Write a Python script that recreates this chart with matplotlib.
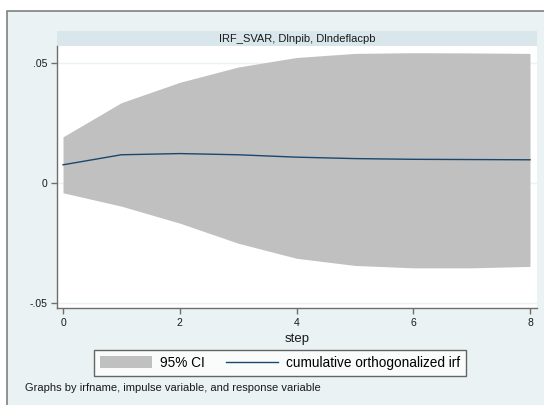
import numpy as np
import matplotlib.pyplot as plt
from matplotlib.patches import Rectangle

plt.rcParams['font.family'] = ['Liberation Sans', 'DejaVu Sans']

# values
steps = [0, 1, 2, 3, 4, 5, 6, 7, 8]
irf = [0.0076, 0.0118, 0.0123, 0.0118, 0.0108, 0.0102, 0.0099, 0.0098, 0.0097]
ci_low = [-0.0041, -0.0097, -0.0168, -0.0252, -0.0315, -0.0345, -0.0355, -0.0355, -0.0349]
ci_high = [0.0193, 0.0336, 0.0421, 0.0485, 0.0525, 0.0542, 0.0545, 0.0544, 0.0542]
yticks = [-0.05, 0, 0.05]
ytick_labels = ['-.05', '0', '.05']
xticks = [0, 2, 4, 6, 8]

panel_title = 'IRF_SVAR, Dlnpib, Dlndeflacpb'
note = 'Graphs by irfname, impulse variable, and response variable'

W, H = 544, 405
bg = '#EAF2F3'
strip = '#D9E6EB'
navy = '#1A476F'
ci_gray = '#C0C0C0'

fig = plt.figure(figsize=(W / 100, H / 100), dpi=100)
fig.patch.set_facecolor('white')

# outer graph region with frame (cropped on right and bottom)
frame = Rectangle((7 / W, -0.01), 1.02, 1 - 11 / H + 0.01, transform=fig.transFigure,
                  facecolor=bg, edgecolor='#808080', linewidth=1.2, zorder=0)
fig.patches.append(frame)

# title strip of the by-graph
fig.patches.append(Rectangle((57 / W, 1 - 46 / H), 480 / W, 15 / H, transform=fig.transFigure,
                             facecolor=strip, edgecolor='none', zorder=1))
fig.text(297 / W, 1 - 38.5 / H, panel_title, ha='center', va='center', fontsize=8, color='#1a1a1a')

ax = fig.add_axes([57 / W, 1 - 308 / H, 480 / W, 262 / H])
ax.set_zorder(5)
ax.set_facecolor('white')
ax.set_xlim(-0.103, 8.12)
ax.set_ylim(-0.0523, 0.0573)

for yv in yticks:
    ax.axhline(yv, color=bg, linewidth=1.0, zorder=0)

ax.fill_between(steps, ci_low, ci_high, color=ci_gray, linewidth=0, label='95% CI', zorder=2)
ax.plot(steps, irf, color=navy, linewidth=1.0, label='cumulative orthogonalized irf', zorder=3)

ax.set_xticks(xticks)
ax.set_yticks(yticks)
ax.set_yticklabels(ytick_labels)
ax.tick_params(axis='both', direction='out', length=4, width=1, color='#6e6e6e',
               labelsize=7.5, labelcolor='#1a1a1a', pad=3)
for side in ['top', 'right']:
    ax.spines[side].set_visible(False)
for side in ['left', 'bottom']:
    ax.spines[side].set_color('#6e6e6e')
    ax.spines[side].set_linewidth(1.0)

ax.set_xlabel('step', fontsize=9.5, color='#1a1a1a', labelpad=4)

h, l = ax.get_legend_handles_labels()
leg = fig.legend(h, l, loc='center', bbox_to_anchor=(280 / W, 1 - 363 / H), ncol=2,
                 fontsize=9.8, frameon=True, fancybox=False, edgecolor='#404040',
                 handlelength=3.8, handleheight=1.0, columnspacing=1.6, handletextpad=0.6,
                 borderpad=0.45, borderaxespad=0)
leg.get_frame().set_linewidth(1.0)
leg.set_zorder(6)

fig.text(25 / W, 1 - 388 / H, note, ha='left', va='center', fontsize=8, color='#1a1a1a')

fig.savefig('out.png', dpi=100, facecolor=fig.get_facecolor())
